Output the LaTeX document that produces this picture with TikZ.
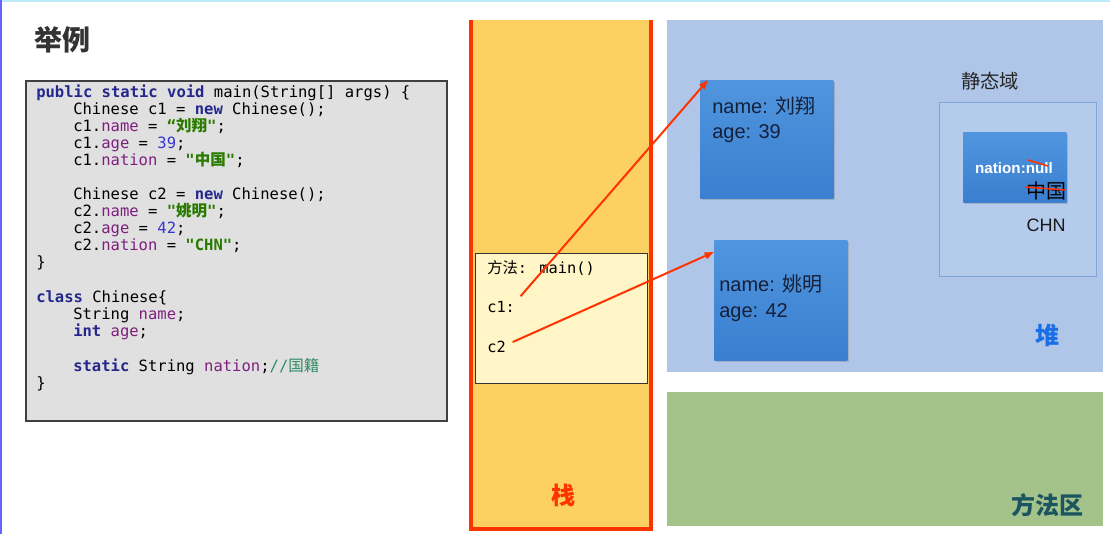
\documentclass[tikz,border=0pt]{standalone}
\usepackage{fontspec}
\setmainfont{Liberation Sans}
\newfontfamily\cjk{Noto Sans CJK SC}
\newfontfamily\codefont{DejaVu Sans Mono}
\usetikzlibrary{arrows.meta,shadows}
\definecolor{kwc}{HTML}{24288C}
\definecolor{fldc}{HTML}{7E1F7E}
\definecolor{numc}{HTML}{3535D0}
\definecolor{strc}{HTML}{2A7A00}
\definecolor{cmtc}{HTML}{2E8A66}
\definecolor{codebg}{HTML}{E0E0E0}
\definecolor{stackc}{HTML}{FDD062}
\definecolor{stackred}{HTML}{FF3300}
\definecolor{framec}{HTML}{FFF5C6}
\definecolor{heapc}{HTML}{AFC6E9}
\definecolor{staticc}{HTML}{B5CBEC}
\definecolor{staticb}{HTML}{7EA6D8}
\definecolor{methc}{HTML}{A4C38A}
\definecolor{objtop}{HTML}{5095DD}
\definecolor{objbot}{HTML}{3A7FD0}
\definecolor{objtxt}{HTML}{15203A}
\definecolor{heaplbl}{HTML}{1A6FE8}
\definecolor{methlbl}{HTML}{1C5560}
\newcommand{\kw}[1]{{\color{kwc}\bfseries #1}}
\newcommand{\fld}[1]{{\color{fldc}#1}}
\newcommand{\numv}[1]{{\color{numc}#1}}
\newcommand{\strv}[1]{{\color{strc}\bfseries #1}}
\tikzset{
  code/.style={anchor=base west,inner sep=0pt,font=\codefont\fontsize{11.65}{13}\selectfont},
  obj/.style={draw=none,top color=objtop,bottom color=objbot,inner sep=0pt,
    drop shadow={shadow xshift=1.5pt,shadow yshift=-1.5pt,opacity=0.35}},
  objtext/.style={anchor=base west,inner sep=0pt,text=objtxt,
    font=\fontsize{15}{19.5}\selectfont},
  ref/.style={draw=stackred,line width=1.5pt,-{Triangle[length=7pt,width=5pt]}},
  biglbl/.style={inner sep=0pt,font=\cjk\bfseries\fontsize{18}{20}\selectfont},
}
\begin{document}
\begin{tikzpicture}[x=0.75pt,y=-0.75pt]
\useasboundingbox (0,0) rectangle (1110,534);
\fill[white] (0,0) rectangle (1110,534);
% slide edges
\fill[cyan!25] (0,0) rectangle (1110,2);
\fill[blue!60] (0,0) rectangle (2,534);
% title
\node[inner sep=0pt,anchor=west,text=black!80,font=\cjk\bfseries\fontsize{21}{24}\selectfont] (title) at (34,40) {举例};
% code box
\node[draw=black!75,line width=1.5pt,fill=codebg,minimum width=421*0.75pt,minimum height=340*0.75pt,anchor=north west,inner sep=0pt] (codebox) at (25,80) {};
\node[code] (l1) at (36,98) {\kw{public static void} main(String[] args) \{};
\node[code] (l2) at (73,115) {Chinese c1 = \kw{new} Chinese();};
\node[code] (l3) at (73,132) {c1.\fld{name} = \strv{“{\cjk 刘翔}"};};
\node[code] (l4) at (73,149) {c1.\fld{age} = \numv{39};};
\node[code] (l5) at (73,166) {c1.\fld{nation} = \strv{"{\cjk 中国}"};};
\node[code] (l6) at (73,200) {Chinese c2 = \kw{new} Chinese();};
\node[code] (l7) at (73,217) {c2.\fld{name} = \strv{"{\cjk 姚明}"};};
\node[code] (l8) at (73,234) {c2.\fld{age} = \numv{42};};
\node[code] (l9) at (73,251) {c2.\fld{nation} = \strv{"CHN"};};
\node[code] (l10) at (36,268) {\}};
\node[code] (l11) at (36,303) {\kw{class} Chinese\{};
\node[code] (l12) at (73,320) {String \fld{name};};
\node[code] (l13) at (73,337) {\kw{int} \fld{age};};
\node[code] (l14) at (73,372) {\kw{static} String \fld{nation};{\color{cmtc}//{\cjk 国籍}}};
\node[code] (l15) at (36,389) {\}};
% stack
\fill[stackc] (470,20) rectangle (652,529);
\draw[stackred,line width=3pt] (471,20) -- (471,529) -- (651,529) -- (651,20);
\node[biglbl,text=stackred] (stacklbl) at (563,495) {栈};
\node[draw=black!80,line width=0.8pt,fill=framec,minimum width=172*0.75pt,minimum height=130*0.75pt,anchor=north west,inner sep=0pt] (frame) at (475,253) {};
\node[anchor=base west,inner sep=0pt,font=\fontsize{11.5}{13}\selectfont] (fm) at (487,274) {{\cjk 方法}{\codefont: main()}};
\node[anchor=base west,inner sep=0pt,font=\codefont\fontsize{11.5}{13}\selectfont] (c1) at (487,313) {c1:};
\node[anchor=base west,inner sep=0pt,font=\codefont\fontsize{11.5}{13}\selectfont] (c2) at (487,353) {c2};
% heap
\fill[heapc] (667,20) rectangle (1103,372);
\node[biglbl,text=heaplbl] (heaplbl) at (1047,335) {堆};
% method area
\fill[methc] (667,392) rectangle (1103,526);
\node[biglbl,text=methlbl] (methlbl) at (1047,505) {方法区};
% objects
\node[obj,minimum width=133*0.75pt,minimum height=118*0.75pt,anchor=north west] (obj1) at (700,80) {};
\node[objtext] (t1a) at (712,114) {name: {\cjk 刘翔}};
\node[objtext] (t1b) at (712,139) {age: 39};
\node[obj,minimum width=133*0.75pt,minimum height=120*0.75pt,anchor=north west] (obj2) at (714,240) {};
\node[objtext] (t2a) at (719,292) {name: {\cjk 姚明}};
\node[objtext] (t2b) at (719,318) {age: 42};
% static area
\node[inner sep=0pt,text=black!85,font=\cjk\fontsize{14.5}{16}\selectfont] (statlbl) at (990,81) {静态域};
\node[draw=staticb,line width=1pt,fill=staticc,minimum width=157*0.75pt,minimum height=174*0.75pt,anchor=north west,inner sep=0pt] (statbox) at (939,102) {};
\node[obj,minimum width=103*0.75pt,minimum height=70*0.75pt,anchor=north west] (nat) at (963,132) {};
\node[inner sep=0pt,text=white,font=\bfseries\fontsize{11.4}{12}\selectfont] (natt) at (1014,168) {nation:null};
\draw[stackred,line width=1.2pt] (1028,160) -- (1048,166);
\node[inner sep=0pt,text=black,font=\cjk\fontsize{15}{16}\selectfont] (zg) at (1046,191) {中国};
\draw[stackred,line width=1.2pt] (1025,187) -- (1066,190);
\node[inner sep=0pt,text=black!90,font=\fontsize{13.5}{15}\selectfont] (chn) at (1046,225) {CHN};
% references
\coordinate (c1s) at ([xshift=4pt,yshift=4pt]c1.north east);
\coordinate (c2s) at ([xshift=5pt,yshift=4pt]c2.east);
\draw[ref] (c1s) -- ([xshift=6pt]obj1.north west);
\draw[ref] (c2s) -- ([yshift=-9pt]obj2.north west);
\end{tikzpicture}
\end{document}
